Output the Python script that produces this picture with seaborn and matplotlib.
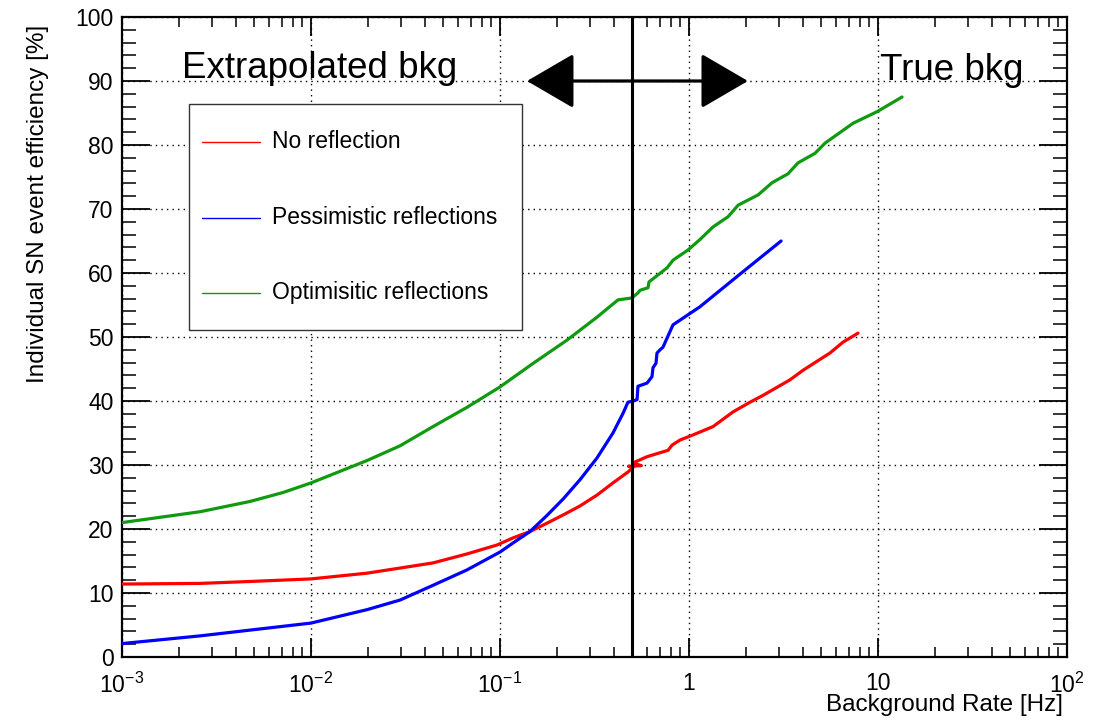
import numpy as np
import pandas as pd
import matplotlib
matplotlib.use("Agg")
import matplotlib.pyplot as plt
import seaborn as sns
from matplotlib.ticker import FixedLocator, LogLocator, NullFormatter, MultipleLocator, FixedFormatter
from matplotlib.patches import FancyArrowPatch, Rectangle
from matplotlib.lines import Line2D

# ---------------- data ----------------
red_x = [0.001, 0.00259, 0.00475, 0.01, 0.0198, 0.0296, 0.0442, 0.0668, 0.0964, 0.117, 0.144,
         0.177, 0.216, 0.265, 0.326, 0.396, 0.475, 0.505,
         0.478, 0.56, 0.505, 0.53, 0.60, 0.775, 0.813, 0.896, 1.05, 1.34, 1.71, 2.10, 2.47,
         3.42, 4.01, 5.57, 6.53, 7.84]
red_y = [11.4, 11.5, 11.8, 12.2, 13.1, 13.9, 14.7, 16.1, 17.5, 18.6, 19.6,
         20.9, 22.2, 23.6, 25.3, 27.2, 28.9, 29.6,
         29.8, 29.9, 30.3, 30.6, 31.3, 32.3, 33.1, 33.9, 34.7, 36.0, 38.3, 39.8, 40.9,
         43.3, 44.8, 47.5, 49.2, 50.6]

blue_x = [0.001, 0.00259, 0.00475, 0.01, 0.0198, 0.0296, 0.0442, 0.0668, 0.1, 0.117, 0.144,
          0.177, 0.216, 0.265, 0.326, 0.396, 0.448, 0.475, 0.505, 0.531, 0.537, 0.600,
          0.637, 0.645, 0.669, 0.677, 0.703, 0.728, 0.823, 1.14, 1.93, 3.07]
blue_y = [2.1, 3.3, 4.2, 5.3, 7.4, 8.9, 11.2, 13.6, 16.4, 17.8, 19.6,
          22.1, 24.7, 27.7, 31.1, 35.0, 38.1, 39.8, 40.0, 40.2, 42.3, 42.8,
          43.8, 45.2, 45.9, 47.5, 48.0, 48.4, 51.9, 54.7, 60.2, 65.0]

green_x = [0.001, 0.00259, 0.00475, 0.00711, 0.01, 0.0198, 0.0296, 0.0442, 0.0668, 0.1,
           0.150, 0.226, 0.326, 0.421, 0.499, 0.537, 0.551, 0.607, 0.614, 0.765, 0.823,
           0.988, 1.14, 1.34, 1.61, 1.82, 2.32, 2.75, 3.34, 3.77, 4.64, 5.25, 7.38, 9.88, 13.4]
green_y = [21.0, 22.7, 24.3, 25.7, 27.2, 30.7, 33.0, 36.0, 39.0, 42.2,
           45.9, 49.5, 53.1, 55.8, 56.1, 56.9, 57.3, 57.7, 58.6, 60.8, 62.0,
           63.6, 65.2, 67.2, 68.8, 70.6, 72.2, 74.1, 75.5, 77.2, 78.7, 80.3, 83.4, 85.2, 87.5]

series_labels = ["No reflection", "Pessimistic reflections", "Optimisitic reflections"]
series_colors = ["#ff0000", "#0000ff", "#0f9a0f"]

x_ticks = [1e-3, 1e-2, 1e-1, 1, 10, 100]
x_tick_labels = [r"$10^{-3}$", r"$10^{-2}$", r"$10^{-1}$", "1", "10", r"$10^{2}$"]
y_ticks = list(range(0, 101, 10))

threshold_rate = 0.5
arrow_from, arrow_to, arrow_level = 0.139, 2.05, 90

# ---------------- style ----------------
sns.set_style("white")
plt.rcParams["font.family"] = ["Liberation Sans", "DejaVu Sans"]
plt.rcParams["mathtext.fontset"] = "custom"
plt.rcParams["mathtext.rm"] = "Liberation Sans"
plt.rcParams["mathtext.it"] = "Liberation Sans"
plt.rcParams["mathtext.default"] = "regular"
for k in ["text.color", "axes.labelcolor", "xtick.color", "ytick.color", "axes.edgecolor"]:
    plt.rcParams[k] = "black"

fig = plt.figure(figsize=(11.1, 7.22), dpi=100)
ax = fig.add_axes([122 / 1110, 65 / 722, 945 / 1110, 640 / 722])

frames = []
for lab, xs, ys in zip(series_labels, [red_x, blue_x, green_x], [red_y, blue_y, green_y]):
    frames.append(pd.DataFrame({"rate": xs, "eff": ys, "series": lab}))
df = pd.concat(frames, ignore_index=True)

for lab, col in zip(series_labels, series_colors):
    sub = df[df["series"] == lab]
    sns.lineplot(data=sub, x="rate", y="eff", color=col, lw=2.3, sort=False,
                 estimator=None, legend=False, ax=ax, zorder=4)

ax.set_xscale("log")
ax.set_xlim(1e-3, 1e2)
ax.set_ylim(0, 100)

ax.xaxis.set_major_locator(FixedLocator(x_ticks))
ax.xaxis.set_major_formatter(FixedFormatter(x_tick_labels))
ax.xaxis.set_minor_locator(LogLocator(base=10, subs=np.arange(2, 10)))
ax.xaxis.set_minor_formatter(NullFormatter())
ax.yaxis.set_major_locator(FixedLocator(y_ticks))
ax.yaxis.set_minor_locator(MultipleLocator(2))

ax.tick_params(axis="x", which="major", direction="in", length=14, width=1.3,
               top=True, bottom=True, labelsize=16.5, pad=11, color="black", labelcolor="black")
ax.tick_params(axis="x", which="minor", direction="in", length=7, width=1.1,
               top=True, bottom=True)
ax.tick_params(axis="y", which="major", direction="in", length=20, width=1.3,
               left=True, right=True, labelsize=16.5, pad=6, color="black", labelcolor="black")
ax.tick_params(axis="y", which="minor", direction="in", length=10, width=1.1,
               left=True, right=True)

for s in ax.spines.values():
    s.set_linewidth(1.6)
    s.set_color("black")

ax.grid(True, which="major", color="black", linestyle=(0, (1, 3)), linewidth=1.0)
ax.set_axisbelow(True)

ax.set_xlabel("Background Rate [Hz]", fontsize=17.5, color="black")
ax.xaxis.set_label_coords(0.9958, -0.075)
ax.xaxis.label.set(ha="right", va="center")
ax.set_ylabel("Individual SN event efficiency [%]", fontsize=17.5, color="black")
ax.yaxis.set_label_coords(-0.089, 0.9875)
ax.yaxis.label.set(ha="right", va="center")

# threshold line and arrow
ax.axvline(threshold_rate, color="black", lw=2.2, zorder=5)
arr = FancyArrowPatch((arrow_from, arrow_level), (arrow_to, arrow_level),
                      arrowstyle="<|-|>,head_length=30,head_width=17.5",
                      mutation_scale=1, color="black", lw=2.3, shrinkA=0, shrinkB=0, zorder=6)
ax.add_patch(arr)

ax.text(0.00208, 90.5, "Extrapolated bkg", fontsize=26.5, ha="left", va="baseline",
        color="black", zorder=6)
ax.text(10.3, 90.2, "True bkg", fontsize=26.5, ha="left", va="baseline", color="black", zorder=6)

# legend box (ROOT style)
bx0, bx1 = (189 - 122) / 945, (522 - 122) / 945
by0, by1 = (657 - 330) / 640, (657 - 104) / 640
ax.add_patch(Rectangle((bx0, by0), bx1 - bx0, by1 - by0, transform=ax.transAxes,
                       facecolor="white", edgecolor="#333333", lw=1.0, zorder=7))
rows = [(657 - 142) / 640, (657 - 218) / 640, (657 - 293) / 640]
for lab, col, ry in zip(series_labels, series_colors, rows):
    ax.add_line(Line2D([(202 - 122) / 945, (260 - 122) / 945], [ry, ry], transform=ax.transAxes,
                       color=col, lw=1.0, zorder=8))
    ax.text((272 - 122) / 945, ry, lab, transform=ax.transAxes, fontsize=16.5,
            ha="left", va="center", color="black", zorder=8)

fig.savefig("out.png", dpi=100)
